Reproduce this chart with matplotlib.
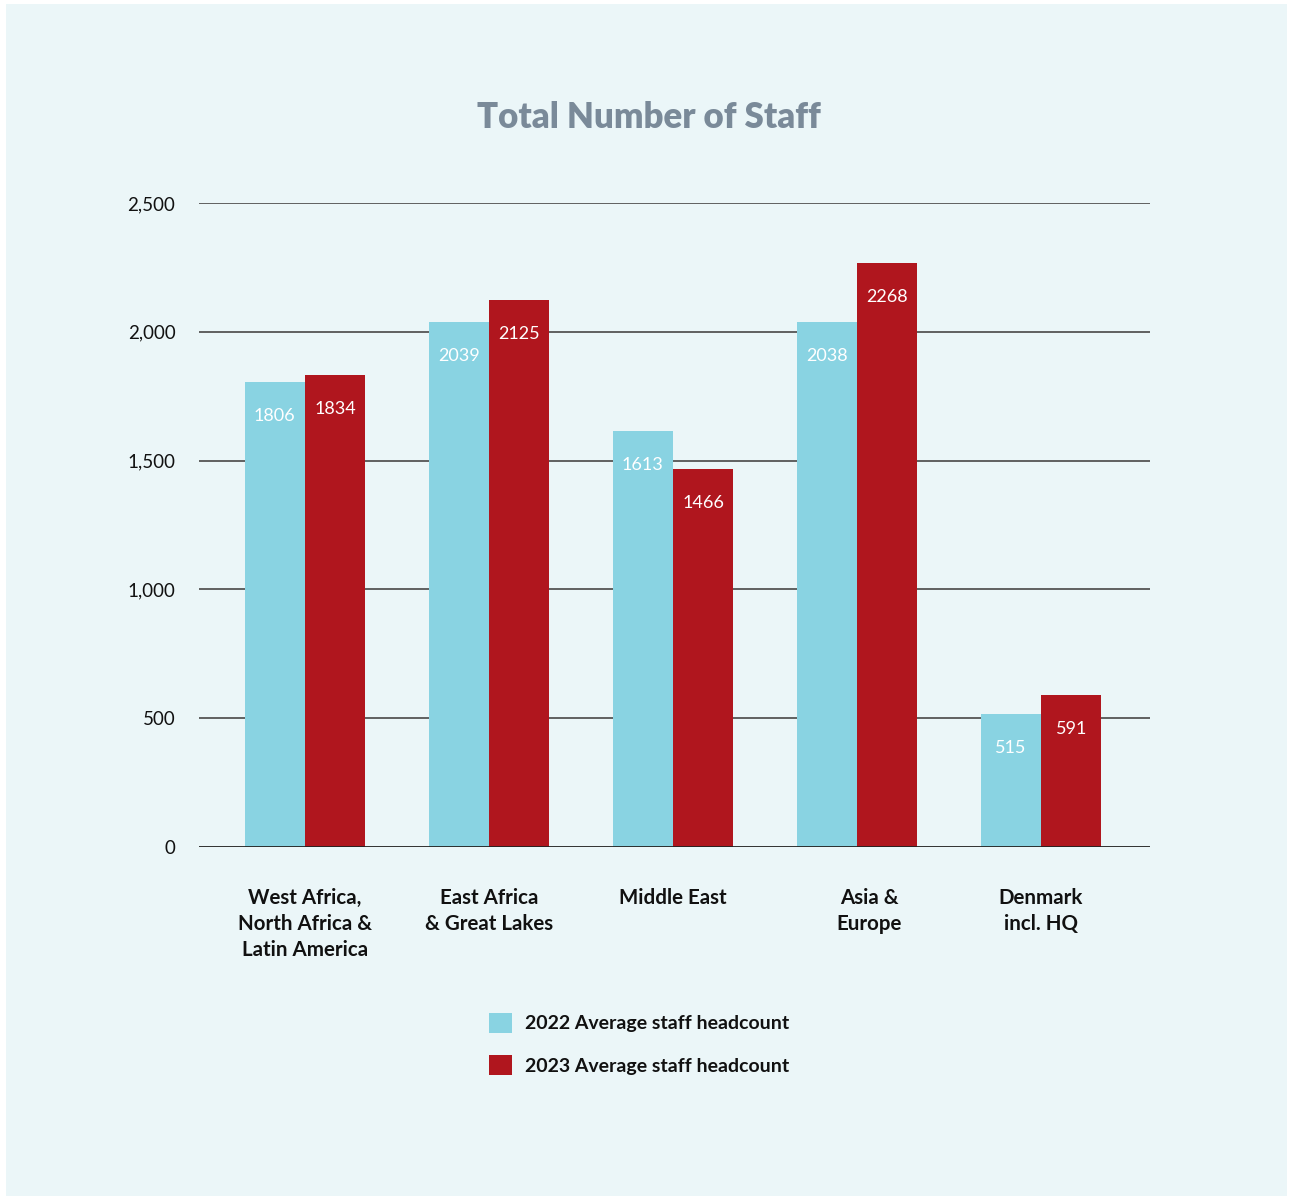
import matplotlib
matplotlib.use("Agg")
import matplotlib.pyplot as plt
from matplotlib.patches import Rectangle
import numpy as np

categories = ["West Africa,\nNorth Africa &\nLatin America", "East Africa\n& Great Lakes",
              "Middle East", "Asia &\nEurope", "Denmark\nincl. HQ"]
values_2022 = [1806, 2039, 1613, 2038, 515]
values_2023 = [1834, 2125, 1466, 2268, 591]
series_labels = ["2022 Average staff headcount", "2023 Average staff headcount"]
yticks = [0, 500, 1000, 1500, 2000, 2500]
ytick_labels = ["0", "500", "1,000", "1,500", "2,000", "2,500"]
title = "Total Number of Staff"

BG = "#EBF6F8"
CYAN = "#89D3E2"
RED = "#B0161E"

plt.rcParams['font.family'] = ['Lato', 'DejaVu Sans']

W, H = 1292, 1196
fig = plt.figure(figsize=(W / 100, H / 100), dpi=100)
fig.patch.set_facecolor("white")
# light background panel with thin white margin
fig.patches.append(Rectangle((6 / W, 0), (W - 11) / W, (H - 4) / H, transform=fig.transFigure,
                             facecolor=BG, edgecolor="none", zorder=-10))

ax = fig.add_axes([199 / W, 349 / H, 951 / W, 644 / H])
ax.set_facecolor("none")
x = np.arange(len(categories))
bw = 0.328
b1 = ax.bar(x - bw / 2, values_2022, bw, color=CYAN, zorder=3, label=series_labels[0])
b2 = ax.bar(x + bw / 2, values_2023, bw, color=RED, zorder=3, label=series_labels[1])

ax.set_xlim(-0.576, 4.592)
ax.set_ylim(0, 2500)
ax.set_yticks(yticks)
ax.set_yticklabels(ytick_labels, fontsize=13.5, color="#111111")
ax.tick_params(axis="y", length=0, pad=17)
ax.set_xticks([])
for s in ax.spines.values():
    s.set_visible(False)
for yt in yticks:
    ax.axhline(yt, color="#222222" if yt == 0 else "#555555", lw=1.3, zorder=1 if yt else 4)

for bars, vals in ((b1, values_2022), (b2, values_2023)):
    for r, v in zip(bars, vals):
        ax.annotate(str(v), (r.get_x() + r.get_width() / 2, v), xytext=(0, -34),
                    textcoords="offset pixels",
                    ha="center", va="center", color="white", fontsize=13, zorder=5)

label_shift = [0, 0, 0, 12, 0]
for xi, c, dx in zip(x, categories, label_shift):
    ax.annotate(c, (xi, 0), xytext=(dx, -41), textcoords="offset pixels", ha="center", va="top",
                fontsize=14.8, fontweight="bold", color="#111111", linespacing=1.39,
                annotation_clip=False)

fig.text(649 / W, 1 - 118 / H, title, ha="center", va="center", fontsize=25,
         fontweight="heavy", color="#7A8A99")

leg = fig.legend(handles=[b1, b2], loc="upper left", bbox_to_anchor=(481 / W, 1 - 1005 / H),
                 frameon=False, fontsize=14, handlelength=1.2, handleheight=1.2,
                 handletextpad=0.65, labelspacing=1.15, borderaxespad=0)
for t in leg.get_texts():
    t.set_fontweight("bold")
    t.set_color("#111111")

fig.savefig("out.png", dpi=100, facecolor=fig.get_facecolor())
